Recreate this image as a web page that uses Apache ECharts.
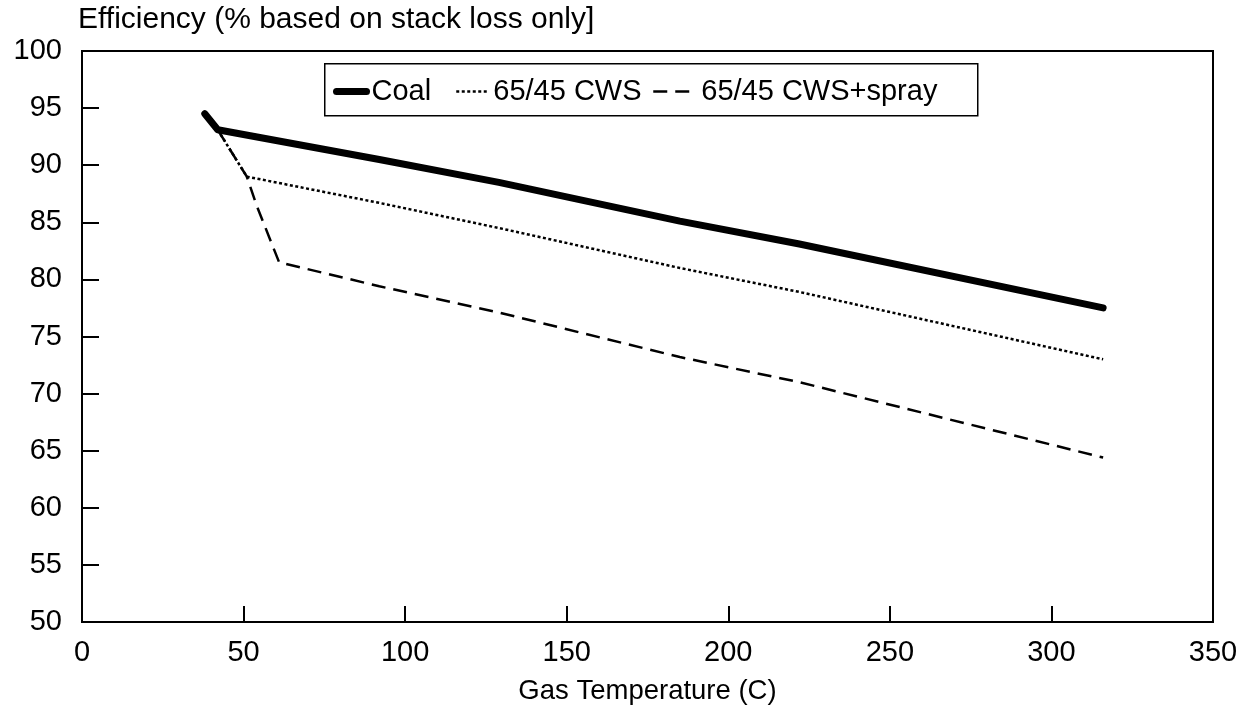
<!DOCTYPE html>
<html>
<head>
<meta charset="utf-8">
<script src="https://cdn.jsdelivr.net/npm/echarts@6/dist/echarts.min.js"></script>
<style>
  html, body { margin: 0; padding: 0; background: #fff; }
  #chart { width: 1249px; height: 717px; }
</style>
</head>
<body>
<div id="chart"></div>
<script>
// Boiler efficiency (stack loss only) against flue gas temperature
const seriesNames = ['Coal', '65/45 CWS', '65/45 CWS+spray'];

// [gas temperature (C), efficiency (%)]
const coalData = [
  [38, 94.5], [42, 93.1], [92, 90.5], [129, 88.5], [185, 85.1], [222, 83.1], [316, 77.5]
];
const cwsData = [
  [42, 93.1], [51, 89.0], [92, 86.7], [129, 84.5], [185, 81.0], [222, 78.9], [316, 73.0]
];
const cwsSprayData = [
  [42, 93.1], [51, 89.0], [54, 86.5], [61, 81.5], [92, 79.4], [129, 77.1],
  [185, 73.2], [222, 71.0], [316, 64.4]
];

const xTicks = { min: 0, max: 350, interval: 50 };
const yTicks = { min: 50, max: 100, interval: 5 };

const titleText = 'Efficiency (% based on stack loss only]';
const xAxisTitle = 'Gas Temperature (C)';

const FONT = '"Liberation Sans", Arial, Helvetica, sans-serif';

// Line looks shared by each series and its legend entry
const styles = [
  { color: '#000', width: 7, type: 'solid', cap: 'round', join: 'round' },
  { color: '#000', width: 2.5, type: [3, 2.5] },
  { color: '#000', width: 2.5, type: [14, 8] }
];

// One legend per entry so each key can have its own sample length
const legendSlots = [
  { left: 333, itemWidth: 30 },
  { left: 455, itemWidth: 32 },
  { left: 652, itemWidth: 43 }
];

const legends = seriesNames.map((name, i) => ({
  data: [{ name: name, lineStyle: styles[i], itemStyle: { opacity: 0 } }],
  left: legendSlots[i].left,
  top: 77,
  padding: 0,
  itemWidth: legendSlots[i].itemWidth,
  itemHeight: 14,
  selectedMode: false,
  z: 10,
  textStyle: { fontFamily: FONT, fontSize: 29, color: '#000' }
}));

const chart = echarts.init(document.getElementById('chart'), null, { renderer: 'canvas' });

chart.setOption({
  backgroundColor: '#ffffff',
  animation: false,
  textStyle: { fontFamily: FONT, color: '#000' },
  title: {
    text: titleText,
    left: 78,
    top: 5,
    padding: 0,
    textStyle: { fontFamily: FONT, fontSize: 30, fontWeight: 'normal', color: '#000' }
  },
  legend: legends,
  // frame drawn around the three legend entries
  graphic: [{
    type: 'rect',
    left: 324,
    top: 63,
    z: 1,
    silent: true,
    shape: { width: 653, height: 52 },
    style: { fill: 'rgba(0,0,0,0)', stroke: '#000', lineWidth: 1.5 }
  }],
  grid: {
    left: 82,
    top: 51,
    right: 36,
    bottom: 95,
    show: true,
    borderColor: '#000',
    borderWidth: 2,
    containLabel: false
  },
  xAxis: {
    type: 'value',
    min: xTicks.min,
    max: xTicks.max,
    interval: xTicks.interval,
    name: xAxisTitle,
    nameLocation: 'middle',
    nameGap: 55,
    nameTextStyle: { fontFamily: FONT, fontSize: 27.5, color: '#000' },
    axisLine: { show: true, onZero: false, lineStyle: { color: '#000', width: 2 } },
    axisTick: { show: true, inside: true, length: 16, lineStyle: { color: '#000', width: 2 } },
    axisLabel: { fontFamily: FONT, fontSize: 29, color: '#000', margin: 16 },
    splitLine: { show: false }
  },
  yAxis: {
    type: 'value',
    min: yTicks.min,
    max: yTicks.max,
    interval: yTicks.interval,
    axisLine: { show: true, lineStyle: { color: '#000', width: 2 } },
    axisTick: { show: true, inside: true, length: 17, lineStyle: { color: '#000', width: 2 } },
    axisLabel: { fontFamily: FONT, fontSize: 29, color: '#000', margin: 20 },
    splitLine: { show: false }
  },
  series: [
    { name: seriesNames[0], type: 'line', data: coalData, lineStyle: styles[0], z: 3 },
    { name: seriesNames[1], type: 'line', data: cwsData, lineStyle: styles[1], z: 2 },
    { name: seriesNames[2], type: 'line', data: cwsSprayData, lineStyle: styles[2], z: 2 }
  ].map(s => Object.assign(s, { showSymbol: false, symbol: 'none', color: '#000' }))
});
</script>
</body>
</html>
